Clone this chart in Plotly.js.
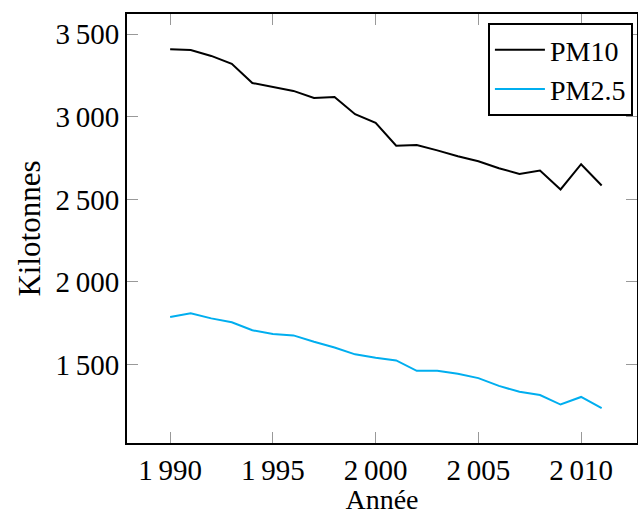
<!DOCTYPE html>
<html>
<head>
<meta charset="utf-8">
<script src="https://cdn.plot.ly/plotly-3.0.1.min.js"></script>
<style>html,body{margin:0;padding:0;background:#fff;overflow:hidden}</style>
</head>
<body>
<div id="chart" style="width:638px;height:515px"></div>
<script>
const years = [1990,1991,1992,1993,1994,1995,1996,1997,1998,1999,2000,2001,2002,2003,2004,2005,2006,2007,2008,2009,2010,2011];
const pm10 = [3410,3405,3369,3321,3205,3181,3157,3114,3120,3016,2964,2825,2829,2797,2761,2731,2689,2654,2675,2560,2713,2584];
const pm25 = [1787,1810,1779,1755,1707,1684,1676,1637,1603,1561,1540,1524,1461,1461,1443,1417,1370,1334,1315,1257,1303,1235];
const xTickVals = [1990,1995,2000,2005,2010];
const xTickText = ["1\u2009990","1\u2009995","2\u2009000","2\u2009005","2\u2009010"];
const yTickVals = [1500,2000,2500,3000,3500];
const yTickText = ["1\u2009500","2\u2009000","2\u2009500","3\u2009000","3\u2009500"];

const font = "'Liberation Serif', serif";
const traces = [
  {x: years, y: pm10, name: "PM10", mode: "lines", line: {color: "#000000", width: 2}},
  {x: years, y: pm25, name: "PM2.5", mode: "lines", line: {color: "#00AEEF", width: 2}}
];
const layout = {
  width: 638, height: 515,
  margin: {l: 127, r: 1, t: 14, b: 72},
  paper_bgcolor: "#fff", plot_bgcolor: "#fff",
  font: {family: font, size: 29, color: "#000"},
  showlegend: true,
  legend: {x: 0.992, y: 0.979, xanchor: "right", yanchor: "top",
           bgcolor: "#fff", bordercolor: "#000", borderwidth: 2,
           itemwidth: 50, tracegroupgap: 0,
           font: {family: font, size: 28, color: "#000"}},
  xaxis: {
    range: [1987.9, 2012.72], tickvals: xTickVals, ticktext: xTickText,
    showgrid: false, zeroline: false, showline: true, linecolor: "#000", linewidth: 2,
    mirror: "ticks", ticks: "inside", ticklen: 11, tickcolor: "#999", tickwidth: 1,
    tickfont: {family: font, size: 29}, automargin: false,
    title: {text: "Année", font: {family: font, size: 28}}
  },
  yaxis: {
    range: [1024, 3623], tickvals: yTickVals, ticktext: yTickText,
    showgrid: false, zeroline: false, showline: true, linecolor: "#000", linewidth: 2,
    mirror: "ticks", ticks: "inside", ticklen: 11, tickcolor: "#999", tickwidth: 1,
    tickfont: {family: font, size: 29}, automargin: false,
    title: {text: "Kilotonnes", font: {family: font, size: 31}, standoff: 6}
  }
};
Plotly.newPlot("chart", traces, layout, {displayModeBar: false, staticPlot: true});
</script>
</body>
</html>
